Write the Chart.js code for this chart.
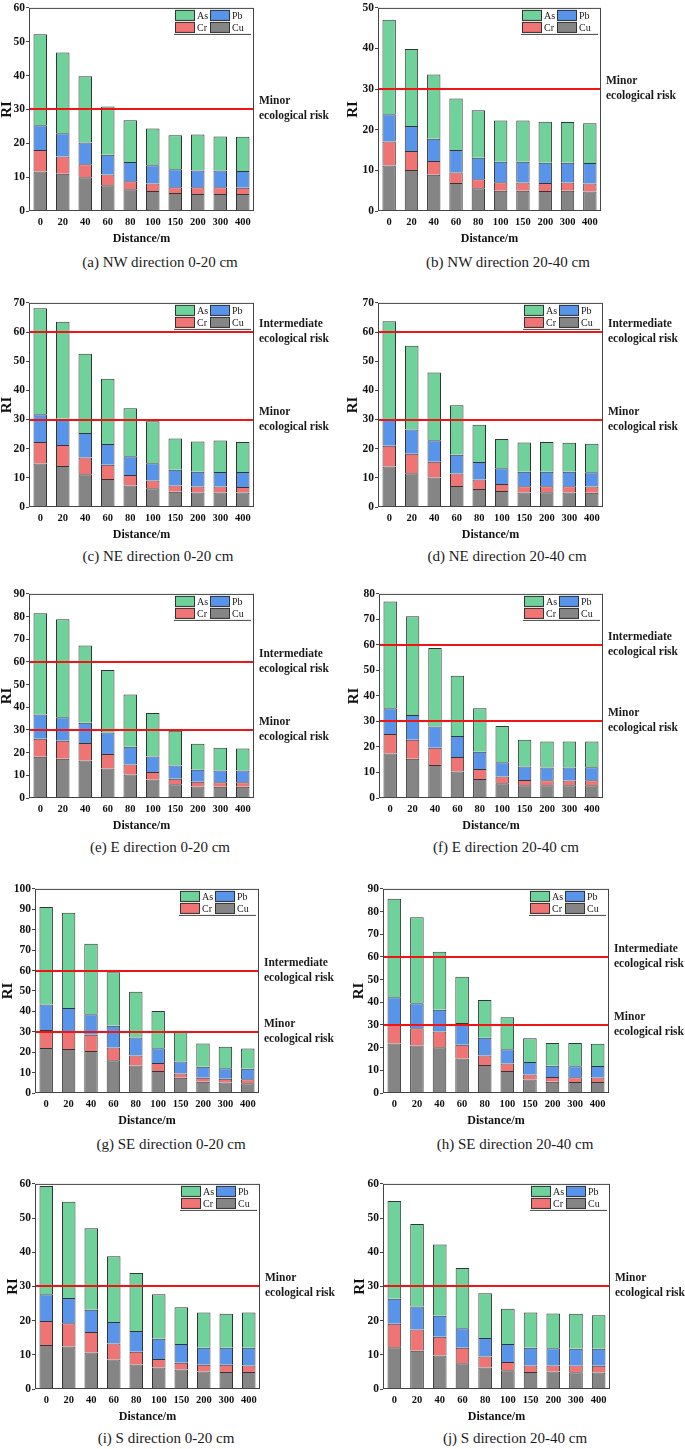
<!DOCTYPE html>
<html>
<head>
<meta charset="utf-8">
<script src="https://cdn.jsdelivr.net/npm/chart.js@4.4.1/dist/chart.umd.min.js"></script>
<style>
  body { margin: 0; background: #fff; }
  #page { position: relative; width: 685px; height: 1449px; overflow: hidden; }
  canvas { position: absolute; }
  .cap { position: absolute; width: 300px; height: 18px; line-height: 18px; text-align: center;
         font: 15px "Liberation Serif", "Times New Roman", serif; color: #1a1a1a; white-space: nowrap; }
</style>
</head>
<body>
<div id="page"></div>
<script>
const distances = ['0', '20', '40', '60', '80', '100', '150', '200', '300', '400'];

// NW direction 0-20 cm
const nw1Cu = [11.7, 11.0, 10.0, 7.6, 6.4, 5.9, 5.3, 5.0, 5.0, 5.0];
const nw1Cr = [6.3, 5.1, 3.8, 3.2, 2.4, 2.2, 1.7, 2.0, 2.0, 1.9];
const nw1Pb = [7.3, 6.9, 6.4, 5.8, 5.7, 5.4, 5.3, 5.0, 5.0, 4.9];
const nw1As = [26.9, 23.8, 19.6, 14.3, 12.3, 10.9, 10.1, 10.6, 10.0, 10.1];
// NW direction 20-40 cm
const nw2Cu = [11.2, 10.1, 8.9, 6.9, 5.6, 5.0, 5.0, 4.9, 5.0, 4.8];
const nw2Cr = [5.9, 4.7, 3.4, 2.6, 2.2, 2.1, 2.0, 2.0, 2.0, 2.0];
const nw2Pb = [6.7, 6.1, 5.5, 5.5, 5.3, 5.0, 5.1, 5.0, 4.9, 5.0];
const nw2As = [23.3, 19.0, 15.8, 12.7, 11.7, 10.2, 10.2, 10.1, 10.0, 9.8];
// NE direction 0-20 cm
const ne1Cu = [14.9, 14.1, 11.2, 9.6, 7.4, 6.4, 5.2, 5.0, 5.0, 5.0];
const ne1Cr = [7.4, 7.2, 5.8, 4.9, 3.6, 2.7, 2.2, 2.0, 2.0, 1.9];
const ne1Pb = [9.5, 9.0, 8.4, 7.1, 6.4, 5.9, 5.4, 5.1, 5.0, 5.1];
const ne1As = [36.4, 33.2, 27.2, 22.4, 16.5, 14.4, 10.7, 10.4, 10.8, 10.3];
// NE direction 20-40 cm
const ne2Cu = [13.9, 11.6, 10.1, 7.2, 6.2, 5.5, 5.0, 5.1, 5.0, 4.9];
const ne2Cr = [7.1, 6.7, 5.4, 4.3, 3.2, 2.4, 2.1, 2.0, 2.1, 2.1];
const ne2Pb = [9.1, 8.3, 7.4, 6.4, 6.0, 5.4, 5.0, 5.0, 5.0, 4.9];
const ne2As = [33.6, 28.7, 23.2, 17.0, 12.8, 10.0, 10.0, 10.2, 9.9, 9.8];
// E direction 0-20 cm
const e1Cu = [18.2, 17.3, 16.5, 13.0, 10.4, 8.2, 6.1, 5.1, 5.0, 5.0];
const e1Cr = [7.9, 7.9, 7.7, 6.4, 4.4, 3.3, 2.4, 2.1, 2.0, 2.0];
const e1Pb = [10.7, 10.4, 9.0, 9.5, 7.8, 6.8, 5.8, 5.3, 5.1, 5.1];
const e1As = [44.7, 43.2, 34.0, 27.5, 23.0, 19.2, 15.3, 11.4, 10.1, 9.7];
// E direction 20-40 cm
const e2Cu = [17.4, 15.4, 12.9, 10.4, 7.4, 5.8, 5.0, 5.0, 5.0, 5.0];
const e2Cr = [7.7, 7.4, 6.8, 5.7, 4.0, 2.6, 2.1, 2.0, 1.9, 2.0];
const e2Pb = [10.1, 9.7, 8.3, 8.2, 6.7, 5.6, 5.2, 5.0, 5.1, 5.1];
const e2As = [41.8, 38.7, 30.8, 23.6, 17.1, 14.2, 10.5, 10.1, 10.1, 10.0];
// SE direction 0-20 cm
const se1Cu = [22.1, 21.6, 20.6, 16.1, 13.5, 10.8, 7.5, 5.5, 5.2, 4.8];
const se1Cr = [8.8, 8.4, 7.9, 6.2, 4.9, 3.9, 2.1, 2.0, 1.8, 1.9];
const se1Pb = [12.4, 11.6, 10.1, 10.7, 8.8, 7.2, 5.8, 5.4, 5.1, 5.2];
const se1As = [47.8, 46.7, 34.5, 26.2, 22.4, 18.3, 15.1, 11.3, 10.6, 9.9];
// SE direction 20-40 cm
const se2Cu = [21.8, 20.9, 20.2, 15.2, 12.3, 9.7, 6.0, 5.0, 4.9, 4.8];
const se2Cr = [8.2, 7.7, 6.9, 6.1, 4.2, 3.3, 2.2, 2.1, 2.0, 2.0];
const se2Pb = [12.2, 11.0, 9.6, 9.6, 7.9, 6.3, 5.5, 4.9, 4.9, 5.1];
const se2As = [43.5, 37.9, 25.6, 20.4, 16.6, 14.1, 10.4, 10.1, 10.2, 9.8];
// S direction 0-20 cm
const s1Cu = [12.9, 12.4, 10.7, 8.6, 7.2, 6.3, 5.7, 5.1, 5.0, 5.0];
const s1Cr = [7.0, 6.8, 6.0, 4.7, 3.7, 2.5, 2.0, 2.0, 2.1, 1.9];
const s1Pb = [7.8, 7.4, 6.5, 6.3, 6.1, 5.9, 5.5, 5.0, 5.0, 5.2];
const s1As = [31.7, 28.2, 23.8, 19.2, 16.9, 13.0, 10.7, 10.3, 9.9, 10.3];
// S direction 20-40 cm
const s2Cu = [12.2, 11.2, 9.8, 7.5, 6.3, 5.5, 5.0, 5.1, 4.9, 4.8];
const s2Cr = [6.9, 6.2, 5.5, 4.6, 3.2, 2.4, 1.9, 1.8, 2.0, 2.0];
const s2Pb = [7.3, 6.7, 6.1, 5.7, 5.4, 5.3, 5.2, 5.0, 4.9, 5.0];
const s2As = [28.6, 24.2, 20.9, 17.6, 13.1, 10.3, 10.3, 10.2, 10.2, 9.8];

const riskNames = { 30: ['Minor', 'ecological risk'], 60: ['Intermediate', 'ecological risk'] };

const colors = { Cu: '#858585', Cr: '#f07474', Pb: '#5894ea', As: '#6fd29a' };
const serif = '"Liberation Serif", "Times New Roman", serif';

// plot area rows (top / bottom pixel of each row of charts) and caption centres
const rowTop = [6, 301, 592, 887, 1182];
const rowBottom = [211, 507, 798, 1093, 1389];
const capY = [263, 557, 848, 1145, 1439];

const panels = [
  { cap: '(a) NW direction 0-20 cm', d: [nw1Cu, nw1Cr, nw1Pb, nw1As], max: 60, risks: [30], row: 0, x: 0, w: 342, padL: 0, yW: 29, padR: 88, capX: 160 },
  { cap: '(b) NW direction 20-40 cm', d: [nw2Cu, nw2Cr, nw2Pb, nw2As], max: 50, risks: [30], row: 0, x: 342, w: 343, padL: 4, yW: 32, padR: 84, capX: 508 },
  { cap: '(c) NE direction 0-20 cm', d: [ne1Cu, ne1Cr, ne1Pb, ne1As], max: 70, risks: [30, 60], row: 1, x: 0, w: 342, padL: 0, yW: 29, padR: 88, capX: 158 },
  { cap: '(d) NE direction 20-40 cm', d: [ne2Cu, ne2Cr, ne2Pb, ne2As], max: 70, risks: [30, 60], row: 1, x: 342, w: 343, padL: 4, yW: 32, padR: 82, capX: 507 },
  { cap: '(e) E direction 0-20 cm', d: [e1Cu, e1Cr, e1Pb, e1As], max: 90, risks: [30, 60], row: 2, x: 0, w: 342, padL: 0, yW: 29, padR: 88, capX: 160 },
  { cap: '(f) E direction 20-40 cm', d: [e2Cu, e2Cr, e2Pb, e2As], max: 80, risks: [30, 60], row: 2, x: 342, w: 343, padL: 5, yW: 32, padR: 82, capX: 506 },
  { cap: '(g) SE direction 0-20 cm', d: [se1Cu, se1Cr, se1Pb, se1As], max: 100, risks: [30, 60], row: 3, x: 0, w: 342, padL: 1, yW: 34, padR: 83, capX: 171 },
  { cap: '(h) SE direction 20-40 cm', d: [se2Cu, se2Cr, se2Pb, se2As], max: 90, risks: [30, 60], row: 3, x: 342, w: 343, padL: 10, yW: 31, padR: 76, capX: 515 },
  { cap: '(i) S direction 0-20 cm', d: [s1Cu, s1Cr, s1Pb, s1As], max: 60, risks: [30], row: 4, x: 0, w: 342, padL: 6, yW: 29, padR: 82, capX: 166 },
  { cap: '(j) S direction 20-40 cm', d: [s2Cu, s2Cr, s2Pb, s2As], max: 60, risks: [30], row: 4, x: 342, w: 343, padL: 11, yW: 30, padR: 75, capX: 515 }
];

// risk lines, frame and the little 2x2 legend in the corner
const decor = {
  id: 'decor',
  afterDatasetsDraw(chart, args, opts) {
    const { ctx, chartArea: a } = chart;
    const y = chart.scales.y;
    ctx.save();
    opts.risks.forEach(v => {
      const py = Math.round(y.getPixelForValue(v));
      ctx.strokeStyle = '#f01414';
      ctx.lineWidth = 2;
      ctx.beginPath();
      ctx.moveTo(a.left, py);
      ctx.lineTo(a.right, py);
      ctx.stroke();
      ctx.fillStyle = '#1a1a1a';
      ctx.font = 'bold 11.5px ' + serif;
      ctx.textAlign = 'left';
      ctx.textBaseline = 'middle';
      ctx.fillText(riskNames[v][0], a.right + 5, py - 7.5);
      ctx.fillText(riskNames[v][1], a.right + 5, py + 7.5);
    });

    ctx.strokeStyle = '#444';
    ctx.lineWidth = 1;
    ctx.strokeRect(a.left + 0.5, a.top + 0.5, a.right - a.left - 1, a.bottom - a.top - 1);

    const R = a.right, T = a.top;
    const slots = [['As', R - 79, T + 2], ['Pb', R - 44, T + 2], ['Cr', R - 79, T + 14], ['Cu', R - 44, T + 14]];
    ctx.font = '10px ' + serif;
    ctx.textAlign = 'left';
    ctx.textBaseline = 'middle';
    slots.forEach(([name, sx, sy]) => {
      ctx.fillStyle = colors[name];
      ctx.fillRect(sx, sy, 20, 11);
      ctx.strokeStyle = '#333';
      ctx.strokeRect(sx + 0.5, sy + 0.5, 19, 10);
    });
    slots.forEach(([name, sx, sy]) => {
      ctx.fillStyle = '#1a1a1a';
      ctx.fillText(name, sx + 22, sy + 6);
    });
    ctx.strokeStyle = '#444';
    ctx.beginPath();
    ctx.moveTo(R - 80, T + 26.5);
    ctx.lineTo(R - 3, T + 26.5);
    ctx.stroke();
    ctx.restore();
  }
};

const page = document.getElementById('page');

panels.forEach(p => {
  const canvasTop = rowTop[p.row] - 6;
  const h = rowBottom[p.row] + 39 - canvasTop;
  const cv = document.createElement('canvas');
  cv.width = p.w;
  cv.height = h;
  cv.style.left = p.x + 'px';
  cv.style.top = canvasTop + 'px';
  cv.style.width = p.w + 'px';
  cv.style.height = h + 'px';
  page.appendChild(cv);

  const names = ['Cu', 'Cr', 'Pb', 'As'];
  new Chart(cv, {
    type: 'bar',
    data: {
      labels: distances,
      datasets: names.map((n, i) => ({
        label: n,
        data: p.d[i],
        backgroundColor: colors[n],
        borderColor: '#353535',
        borderWidth: 1,
        barPercentage: 0.6,
        categoryPercentage: 1
      }))
    },
    options: {
      responsive: false,
      animation: false,
      devicePixelRatio: 1,
      layout: { padding: { left: p.padL, right: p.padR, top: 6, bottom: 0 } },
      plugins: { legend: { display: false }, tooltip: { enabled: false }, decor: { risks: p.risks } },
      scales: {
        x: {
          stacked: true,
          grid: { display: false, drawTicks: false },
          border: { display: false },
          ticks: { color: '#111', font: { family: serif, weight: 'bold', size: 10.5 }, padding: 5, maxRotation: 0, autoSkip: false },
          title: { display: true, text: 'Distance/m', color: '#111', font: { family: serif, weight: 'bold', size: 12 }, padding: { top: 0, bottom: 4 } },
          afterFit(s) { s.height = 39; }
        },
        y: {
          stacked: true,
          min: 0,
          max: p.max,
          grid: { display: true, drawOnChartArea: false, drawTicks: true, tickLength: 3, color: '#444' },
          border: { display: false },
          ticks: { stepSize: 10, color: '#111', font: { family: serif, weight: 'bold', size: 11.5 }, padding: 1 },
          title: { display: true, text: 'RI', color: '#111', font: { family: serif, weight: 'bold', size: 15, lineHeight: 1 }, padding: 0 },
          afterFit(s) { s.width = p.yW; }
        }
      }
    },
    plugins: [decor]
  });

  const cap = document.createElement('div');
  cap.className = 'cap';
  cap.textContent = p.cap;
  cap.style.left = (p.capX - 150) + 'px';
  cap.style.top = (capY[p.row] - 9) + 'px';
  page.appendChild(cap);
});
</script>
</body>
</html>
